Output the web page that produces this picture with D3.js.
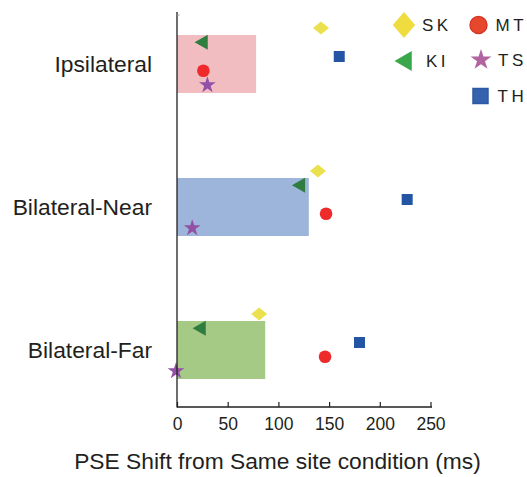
<!DOCTYPE html>
<html>
<head>
<meta charset="utf-8">
<script src="https://cdn.jsdelivr.net/npm/d3@7"></script>
<style>
  body { margin: 0; background: #fff; }
  svg { display: block; font-family: "Liberation Sans", Arial, Helvetica, sans-serif; }
</style>
</head>
<body>
<svg id="mount" width="527" height="477"></svg>
<script>
var textColor = "#231f20";

// categories, top to bottom
var conditions = ["Ipsilateral", "Bilateral-Near", "Bilateral-Far"];
// bar (mean) values, ms
var barValues = [78, 130, 87];
var barColors = ["#f2bdc1", "#9db5da", "#a4ca86"];

// subjects, in vertical order within each row
var subjects = ["SK", "KI", "TH", "MT", "TS"];
var subjectColors = ["#ebe14f", "#2f7e40", "#2455a5", "#ee2a2a", "#9450a6"];
var legendColors = ["#efdc3e", "#3aa84a", "#3562ae", "#e5482b", "#b2649f"];

// per-subject values (ms) for Ipsilateral, Bilateral-Near, Bilateral-Far
var valuesSK = [142, 139, 81];
var valuesKI = [26, 122, 24];
var valuesTH = [160, 227, 180];
var valuesMT = [26, 147, 146];
var valuesTS = [30, 15, -1];

var xTicks = [0, 50, 100, 150, 200, 250];

var subjectValues = [valuesSK, valuesKI, valuesTH, valuesMT, valuesTS];

var svg = d3.select("#mount");

var x = d3.scaleLinear().domain([0, 250]).range([177, 430.5]);
var y = d3.scalePoint().domain(conditions).range([64, 350]);
var ySub = d3.scalePoint().domain(subjects).range([-36, 21]);
var barHeight = 58;

// bars
svg.append("g")
  .selectAll("rect")
  .data(conditions)
  .enter()
  .append("rect")
  .attr("x", x(0))
  .attr("y", function(d) { return y(d) - barHeight / 2; })
  .attr("width", function(d, i) { return x(barValues[i]) - x(0); })
  .attr("height", barHeight)
  .attr("fill", function(d, i) { return barColors[i]; });

// marker shapes
function shapeFor(name, big) {
  var s = big ? 1.4 : 1;
  if (name === "SK") return { path: d3.symbol(d3.symbolSquare, 128 * s * s)(), transform: big ? "scale(1,1.16) rotate(45)" : "scale(1,0.8) rotate(45)" };
  if (name === "KI") return { path: d3.symbol(d3.symbolTriangle, (big ? 170 : 100))(), transform: "rotate(-90)" };
  if (name === "TH") return { path: d3.symbol(d3.symbolSquare, big ? 225 : 121)(), transform: "" };
  if (name === "MT") return { path: d3.symbol(d3.symbolCircle, big ? 225 : 125)(), transform: "" };
  return { path: d3.symbol(d3.symbolStar, big ? 135 : 88)(), transform: "" };
}

var points = [];
subjects.forEach(function(s, si) {
  conditions.forEach(function(c, ci) {
    points.push({ subject: s, si: si, condition: c, value: subjectValues[si][ci] });
  });
});

svg.append("g")
  .selectAll("path")
  .data(points)
  .enter()
  .append("path")
  .attr("d", function(d) { return shapeFor(d.subject, false).path; })
  .attr("transform", function(d) {
    return "translate(" + x(d.value) + "," + (y(d.condition) + ySub(d.subject)) + ") " + shapeFor(d.subject, false).transform;
  })
  .attr("fill", function(d) { return subjectColors[d.si]; });

// y axis line
svg.append("line")
  .attr("x1", x(0)).attr("x2", x(0))
  .attr("y1", 12).attr("y2", 407.5)
  .attr("stroke", textColor)
  .attr("stroke-width", 1.3);
svg.append("line")
  .attr("x1", x(0)).attr("x2", x(0) + 2.5)
  .attr("y1", 15).attr("y2", 15)
  .attr("stroke", "#999")
  .attr("stroke-width", 1);

// x axis
var xAxis = svg.append("g")
  .attr("transform", "translate(0,407)")
  .call(d3.axisBottom(x).tickValues(xTicks).tickSizeInner(-5).tickSizeOuter(0).tickPadding(11))
  .call(function(g) {
    g.select(".domain").attr("stroke", textColor).attr("stroke-width", 1.3)
      .attr("d", "M" + x(0) + ",0H432");
    g.selectAll(".tick line").attr("stroke", textColor).attr("stroke-width", 1.2);
    g.selectAll(".tick text")
      .attr("fill", textColor)
      .style("font-size", "17.5px")
      .style("font-family", "'Liberation Sans', Arial, sans-serif");
  });

// category labels
svg.append("g")
  .selectAll("text")
  .data(conditions)
  .enter()
  .append("text")
  .attr("x", 152)
  .attr("y", function(d) { return y(d); })
  .attr("dy", "0.36em")
  .attr("text-anchor", "end")
  .attr("fill", textColor)
  .style("font-size", "22.8px")
  .text(function(d) { return d; });

// x title
svg.append("text")
  .attr("x", 277.5)
  .attr("y", 469)
  .attr("text-anchor", "middle")
  .attr("fill", textColor)
  .style("font-size", "22.8px")
  .text("PSE Shift from Same site condition (ms)");

// legend
var legendPos = {
  SK: [404, 25], KI: [406, 61],
  MT: [478.5, 25], TS: [481, 60], TH: [480.5, 96]
};
var legend = svg.append("g")
  .selectAll("g")
  .data(subjects)
  .enter()
  .append("g")
  .attr("transform", function(d) { return "translate(" + legendPos[d][0] + "," + legendPos[d][1] + ")"; });

legend.append("path")
  .attr("d", function(d) { return shapeFor(d, true).path; })
  .attr("transform", function(d) { return shapeFor(d, true).transform; })
  .attr("fill", function(d, i) { return legendColors[i]; })
  .attr("stroke", function(d) { return d === "MT" ? "#d9362a" : (d === "TH" ? "#2f58a0" : "none"); })
  .attr("stroke-width", 1.5);

legend.append("text")
  .attr("x", function(d) { return d === "SK" ? 18 : (d === "KI" ? 20 : 17); })
  .attr("dy", "0.36em")
  .attr("fill", textColor)
  .style("font-size", "17px")
  .style("letter-spacing", "3.5px")
  .text(function(d) { return d; });
</script>
</body>
</html>
